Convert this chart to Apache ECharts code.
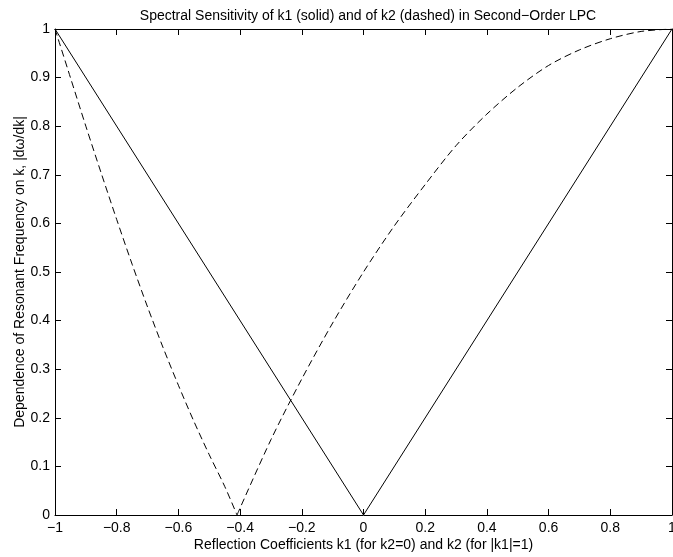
<!DOCTYPE html>
<html>
<head>
<meta charset="utf-8">
<script src="https://cdn.jsdelivr.net/npm/echarts@6/dist/echarts.min.js"></script>
<style>
html,body{margin:0;padding:0;background:#fff;}
#chart{width:673px;height:557px;}
</style>
</head>
<body>
<div id="chart"></div>
<script>
// Data
var titleText = 'Spectral Sensitivity of k1 (solid) and of k2 (dashed) in Second\u2212Order LPC';
var xLabel = 'Reflection Coefficients k1 (for k2=0) and k2 (for |k1|=1)';
var yLabel = 'Dependence of Resonant Frequency on k, |d\u03c9/dk|';

// k1 sensitivity (solid)
var k1X = [-1, 0, 1];
var k1Y = [1, 0, 1];

// k2 sensitivity (dashed), left branch
var k2LeftX = [-1, -0.95, -0.9, -0.85, -0.8, -0.75, -0.7, -0.65, -0.6, -0.55, -0.5, -0.45, -0.41];
var k2LeftY = [1, 0.90, 0.80, 0.703, 0.608, 0.516, 0.428, 0.345, 0.267, 0.193, 0.124, 0.059, 0];
// k2 sensitivity (dashed), right branch
var k2RightX = [-0.41, -0.3, -0.2, -0.1, 0, 0.1, 0.2, 0.3, 0.4, 0.5, 0.6, 0.7, 0.8, 0.9, 1];
var k2RightY = [0, 0.155, 0.28, 0.395, 0.50, 0.595, 0.68, 0.76, 0.825, 0.88, 0.925, 0.957, 0.98, 0.995, 1];

function pairs(xs, ys){ return xs.map(function(x,i){ return [x, ys[i]]; }); }

var FONT = 'Liberation Sans, Arial, Helvetica, sans-serif';
var chart = echarts.init(document.getElementById('chart'), null, {renderer:'canvas'});

function fmtX(v){
  var s = (Math.round(v*10)/10).toString();
  return s.replace('-', '\u2212');
}
function fmtY(v){
  return (Math.round(v*10)/10).toString();
}

var axisLine = {show:true, onZero:false, lineStyle:{color:'#000', width:1}};
var axisTick = {show:true, inside:true, length:6, lineStyle:{color:'#000', width:1}};
var dash = {color:'#000', width:1, type:[7,4]};

chart.setOption({
  animation:false,
  backgroundColor:'#fff',
  title:{
    text:titleText, left:363, top:4, textAlign:'center',
    textStyle:{fontFamily:FONT, fontSize:14, fontWeight:'normal', color:'#000'}
  },
  grid:{left:55, right:1, top:29, bottom:42, containLabel:false, outerBoundsMode:'none'},
  xAxis:[
    {type:'value', position:'bottom', min:-1, max:1, interval:0.2,
     axisLine:axisLine, axisTick:axisTick, splitLine:{show:false},
     axisLabel:{formatter:fmtX, fontFamily:FONT, fontSize:14, color:'#000', margin:6, showMaxLabel:true, showMinLabel:true, hideOverlap:false},
     name:xLabel, nameLocation:'middle', nameGap:23, nameMoveOverlap:false,
     nameTextStyle:{fontFamily:FONT, fontSize:14, color:'#000'}},
    {type:'value', position:'top', min:-1, max:1, interval:0.2,
     axisLine:axisLine, axisTick:axisTick, splitLine:{show:false}, axisLabel:{show:false}}
  ],
  yAxis:[
    {type:'value', position:'left', min:0, max:1, interval:0.1,
     axisLine:axisLine, axisTick:axisTick, splitLine:{show:false},
     axisLabel:{formatter:fmtY, fontFamily:FONT, fontSize:14, color:'#000', margin:5, hideOverlap:false},
     name:yLabel, nameLocation:'middle', nameGap:28, nameRotate:90, nameMoveOverlap:false,
     nameTextStyle:{fontFamily:FONT, fontSize:14, color:'#000'}},
    {type:'value', position:'right', min:0, max:1, interval:0.1,
     axisLine:axisLine, axisTick:axisTick, splitLine:{show:false}, axisLabel:{show:false}}
  ],
  series:[
    {type:'line', name:'k1', data:pairs(k1X, k1Y), symbol:'none',
     lineStyle:{color:'#000', width:1, type:'solid'}},
    {type:'line', name:'k2 left', data:pairs(k2LeftX, k2LeftY), symbol:'none', smooth:0.3,
     lineStyle:dash},
    {type:'line', name:'k2 right', data:pairs(k2RightX, k2RightY), symbol:'none', smooth:0.3,
     lineStyle:dash}
  ]
});
</script>
</body>
</html>
